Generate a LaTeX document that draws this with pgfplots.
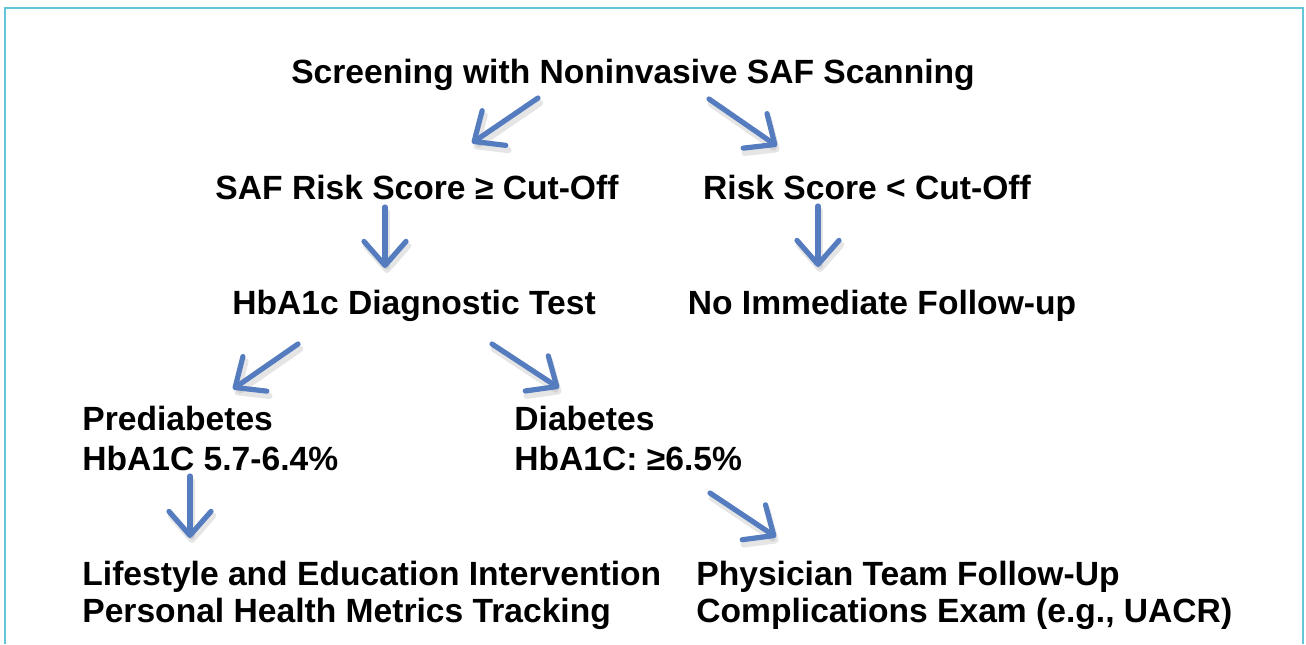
\documentclass[border=0pt]{standalone}
\usepackage{pgfplots}
\pgfplotsset{compat=1.18}
\usepackage{fontspec}
\setmainfont{Liberation Sans}
\usetikzlibrary{arrows.meta}
\definecolor{arrowblue}{RGB}{84,124,190}
\definecolor{framecyan}{RGB}{100,196,216}
\tikzset{lab/.style={font=\fontsize{16.8}{20}\selectfont\bfseries, inner sep=0pt, text=black}}
\begin{document}
\begin{tikzpicture}
\begin{axis}[name=ax,
  width=653pt, height=322pt, scale only axis,
  xmin=0, xmax=1306, ymin=0, ymax=644, y dir=reverse,
  hide axis, clip=true,
]
% frame
\addplot[framecyan, line width=1.2pt] coordinates {(5,644) (5,8) (1303,8) (1303,644)};
% arrows: tail x, tail y, dx, dy
\addplot[black!40, opacity=0.25, line width=3.2pt, line cap=round,
  quiver={u=\thisrow{u}, v=\thisrow{v},
  every arrow/.append style={-{Straight Barb[length=12pt,width=21pt,line width=3.2pt,round]}}}]
  table[x=x,y=y] {
  x   y   u    v
  540 103 -66  45
  711 104  68  47
  387 212  0   61
  820 211  0   61
  300 349 -65  45
  494 349  67  44
  192 481  0   62
  712 498  66  44
};
\addplot[arrowblue, line width=2.6pt, line cap=round,
  quiver={u=\thisrow{u}, v=\thisrow{v},
  every arrow/.append style={-{Straight Barb[length=12pt,width=21pt,line width=2.6pt,round]}}}]
  table[x=x,y=y] {
  x   y   u    v
  538 98  -66  45
  709 99   68  47
  385 207  0   61
  818 206  0   61
  298 344 -65  45
  492 344  67  44
  190 476  0   62
  710 493  66  44
};
\end{axis}
\begin{axis}[
  width=653pt, height=322pt, scale only axis,
  xmin=0, xmax=1306, ymin=0, ymax=644, y dir=reverse,
  hide axis, clip=false,
]
\node[lab, anchor=base] at (axis cs:633,83) {Screening with Noninvasive SAF Scanning};
\node[lab, anchor=base] at (axis cs:417,199) {SAF Risk Score ≥ Cut-Off};
\node[lab, anchor=base] at (axis cs:867,199) {Risk Score < Cut-Off};
\node[lab, anchor=base] at (axis cs:414,314) {HbA1c Diagnostic Test};
\node[lab, anchor=base] at (axis cs:882,314) {No Immediate Follow-up};
\node[lab, anchor=base west] at (axis cs:82,430) {Prediabetes};
\node[lab, anchor=base west] at (axis cs:82,470) {HbA1C 5.7-6.4\%};
\node[lab, anchor=base west] at (axis cs:514,430) {Diabetes};
\node[lab, anchor=base west] at (axis cs:514,470) {HbA1C: ≥6.5\%};
\node[lab, anchor=base west] at (axis cs:82,585) {Lifestyle and Education Intervention};
\node[lab, anchor=base west] at (axis cs:82,622) {Personal Health Metrics Tracking};
\node[lab, anchor=base west] at (axis cs:696,585) {Physician Team Follow-Up};
\node[lab, anchor=base west] at (axis cs:696,622) {Complications Exam (e.g., UACR)};
\end{axis}
\pgfresetboundingbox
\path (ax.south west) rectangle (ax.north east);
\end{tikzpicture}
\end{document}
